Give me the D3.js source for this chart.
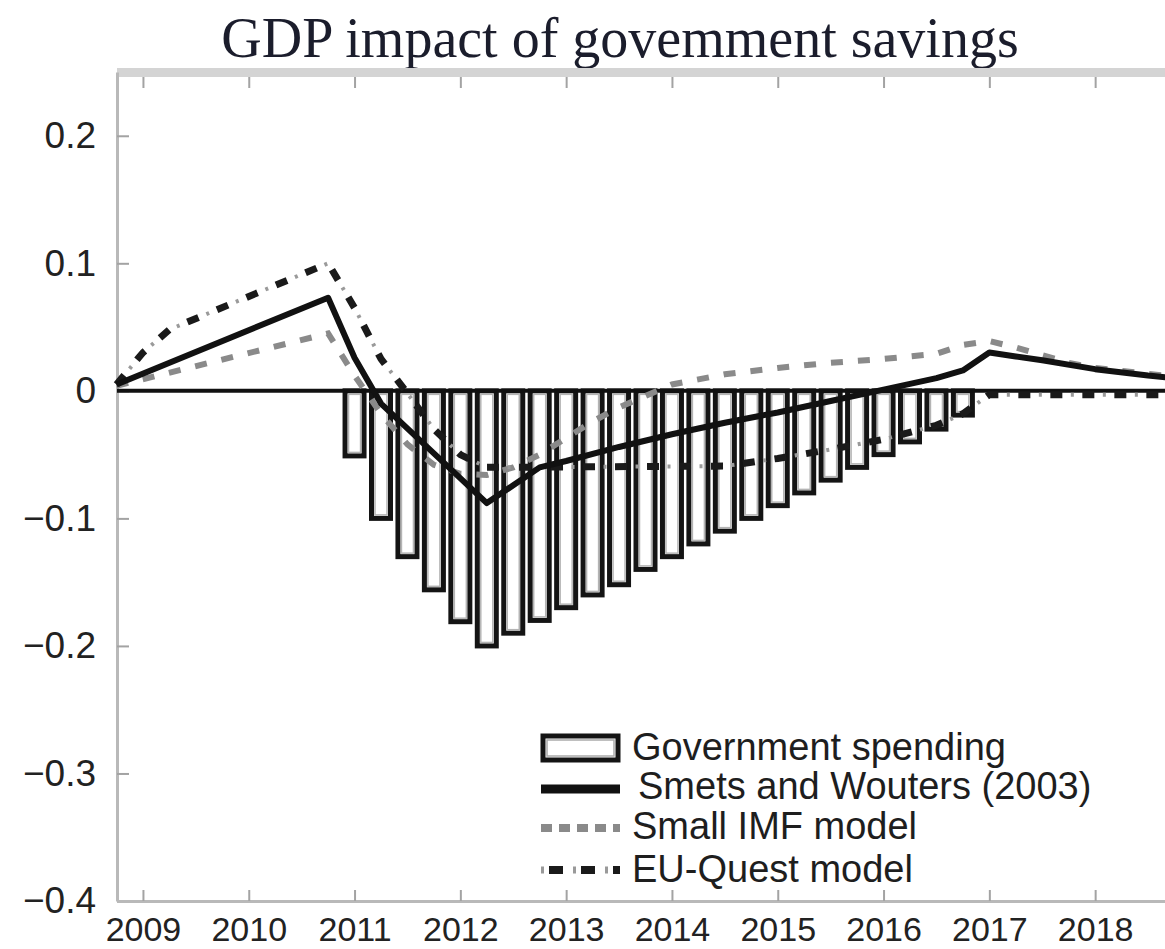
<!DOCTYPE html>
<html>
<head>
<meta charset="utf-8">
<title>GDP impact of govemment savings</title>
<script src="https://d3js.org/d3.v7.min.js"></script>
<style>
  body { margin: 0; background: #fff; }
  text { font-family: "Liberation Sans", Arial, Helvetica, sans-serif; fill: #1e1e1e; }
</style>
</head>
<body>
<script>
// ---- data ----
// government spending bars, one per quarter
var barDates  = [2011.0, 2011.25, 2011.5, 2011.75, 2012.0, 2012.25, 2012.5, 2012.75,
                 2013.0, 2013.25, 2013.5, 2013.75, 2014.0, 2014.25, 2014.5, 2014.75,
                 2015.0, 2015.25, 2015.5, 2015.75, 2016.0, 2016.25, 2016.5, 2016.75];
var barValues = [-0.051, -0.100, -0.130, -0.156, -0.181, -0.200, -0.190, -0.180,
                 -0.170, -0.160, -0.152, -0.140, -0.130, -0.120, -0.110, -0.100,
                 -0.090, -0.080, -0.070, -0.060, -0.050, -0.040, -0.030, -0.019];

// Smets and Wouters (2003)
var swDates  = [2008.75, 2010.75, 2011.0, 2011.25, 2012.25, 2012.5, 2012.75, 2013.0, 2013.5,
                2014.0, 2014.5, 2015.0, 2015.5, 2016.0, 2016.5, 2016.75, 2017.0, 2017.25,
                2017.5, 2018.0, 2018.5, 2018.75];
var swValues = [0.005, 0.073, 0.026, -0.010, -0.088, -0.074, -0.060, -0.055, -0.044,
                -0.034, -0.025, -0.017, -0.008, 0.001, 0.010, 0.016, 0.030, 0.027,
                0.024, 0.017, 0.012, 0.010];

// Small IMF model
var imfDates  = [2008.75, 2010.75, 2011.0, 2011.25, 2011.5, 2011.75, 2012.0, 2012.25, 2012.5,
                 2012.75, 2013.0, 2013.25, 2013.5, 2013.75, 2014.0, 2014.5, 2015.0, 2015.5,
                 2016.0, 2016.5, 2016.75, 2017.0, 2017.25, 2017.5, 2017.75, 2018.0, 2018.75];
var imfValues = [0.004, 0.045, 0.012, -0.018, -0.042, -0.058, -0.065, -0.066, -0.060,
                 -0.050, -0.037, -0.024, -0.013, -0.004, 0.005, 0.013, 0.018, 0.022,
                 0.025, 0.029, 0.036, 0.039, 0.034, 0.028, 0.022, 0.018, 0.011];

// EU-Quest model
var euDates  = [2008.75, 2009.0, 2009.25, 2010.75, 2011.0, 2011.25, 2011.5, 2011.75, 2012.0,
                2012.25, 2014.5, 2015.0, 2015.5, 2016.0, 2016.5, 2016.75, 2017.0, 2018.75];
var euValues = [0.005, 0.030, 0.048, 0.100, 0.065, 0.025, -0.002, -0.030, -0.050,
                -0.060, -0.059, -0.053, -0.046, -0.038, -0.027, -0.018, -0.003, -0.003];

var yearTicks = [2009, 2010, 2011, 2012, 2013, 2014, 2015, 2016, 2017, 2018];
var valueTicks = [0.2, 0.1, 0, -0.1, -0.2, -0.3, -0.4];
var legendLabels = ["Government spending", "Smets and Wouters (2003)", "Small IMF model", "EU-Quest model"];
var titleText = "GDP impact of govemment savings";

// ---- layout ----
var width = 1165, height = 949;

var svg = d3.select("body").append("svg")
    .attr("width", width)
    .attr("height", height)
    .style("display", "block");

svg.append("rect").attr("width", width).attr("height", height).attr("fill", "#fff");

var x = d3.scaleLinear().domain([2008.75, 2018.75]).range([116.5, 1174.5]);
var y = d3.scaleLinear().domain([-0.4, 0.25]).range([901, 72]);

// title
svg.append("text")
    .attr("x", 620)
    .attr("y", 57)
    .attr("text-anchor", "middle")
    .style("font-family", "'Liberation Serif', 'Times New Roman', serif")
    .style("font-size", "56px")
    .style("fill", "#1b1d2c")
    .text(titleText);

// top gray band of the frame
svg.append("rect")
    .attr("x", 117).attr("y", 68)
    .attr("width", width - 117).attr("height", 9)
    .attr("fill", "#d4d4d4");

function styleAxis(g) {
    g.selectAll(".tick line").attr("stroke", "#a3a3a3").attr("stroke-width", 2);
    g.select(".domain").attr("stroke", "#b9b9b9").attr("stroke-width", 3);
}

// top ticks (no labels)
var topAxis = svg.append("g")
    .attr("transform", "translate(0,77)")
    .call(d3.axisTop(x).tickValues(yearTicks).tickSize(-11).tickSizeOuter(0).tickFormat(""));
topAxis.select(".domain").remove();
styleAxis(topAxis);

// left axis
var leftAxis = svg.append("g")
    .attr("transform", "translate(117,0)")
    .call(d3.axisLeft(y)
        .tickValues(valueTicks)
        .tickSize(-12)
        .tickSizeOuter(0)
        .tickPadding(21)
        .tickFormat(function (d) { return (d < 0 ? "\u2212" : "") + Math.abs(d); }));
styleAxis(leftAxis);
leftAxis.selectAll("text")
    .style("font-size", "37px")
    .style("fill", "#222");

// bottom axis
var bottomAxis = svg.append("g")
    .attr("transform", "translate(0,901)")
    .call(d3.axisBottom(x)
        .tickValues(yearTicks)
        .tickSize(-11)
        .tickSizeOuter(0)
        .tickPadding(16)
        .tickFormat(d3.format("d")));
styleAxis(bottomAxis);
bottomAxis.selectAll("text")
    .style("font-size", "34px")
    .style("fill", "#222");

// ---- bars ----
var bars = barDates.map(function (d, i) { return { date: d, value: barValues[i] }; });

var barG = svg.append("g");
barG.selectAll("rect.outer")
    .data(bars)
    .enter().append("rect")
    .attr("class", "outer")
    .attr("x", function (d) { return x(d.date) - 9.5; })
    .attr("y", y(0))
    .attr("width", 19)
    .attr("height", function (d) { return y(d.value) - y(0); })
    .attr("fill", "#fff")
    .attr("stroke", "#141414")
    .attr("stroke-width", 5);

barG.selectAll("rect.inner")
    .data(bars)
    .enter().append("rect")
    .attr("class", "inner")
    .attr("x", function (d) { return x(d.date) - 6; })
    .attr("y", y(0) + 3.5)
    .attr("width", 12)
    .attr("height", function (d) { return Math.max(0, y(d.value) - y(0) - 7); })
    .attr("fill", "none")
    .attr("stroke", "#b4b4b4")
    .attr("stroke-width", 1.5);

// zero line
svg.append("line")
    .attr("x1", 117).attr("x2", width)
    .attr("y1", y(0)).attr("y2", y(0))
    .attr("stroke", "#111")
    .attr("stroke-width", 4);

// ---- lines ----
function pairs(dates, values) {
    return dates.map(function (d, i) { return [d, values[i]]; });
}
var line = d3.line()
    .x(function (d) { return x(d[0]); })
    .y(function (d) { return y(d[1]); });

// Small IMF model
svg.append("path")
    .datum(pairs(imfDates, imfValues))
    .attr("d", line)
    .attr("fill", "none")
    .attr("stroke", "#8a8a8a")
    .attr("stroke-width", 6)
    .attr("stroke-dasharray", "12,15");

// EU-Quest model (dark blocks with light dots between)
var euData = pairs(euDates, euValues);
svg.append("path")
    .datum(euData)
    .attr("d", line)
    .attr("fill", "none")
    .attr("stroke", "#1a1a1a")
    .attr("stroke-width", 7)
    .attr("stroke-dasharray", "12,20");
svg.append("path")
    .datum(euData)
    .attr("d", line)
    .attr("fill", "none")
    .attr("stroke", "#9a9a9a")
    .attr("stroke-width", 4)
    .attr("stroke-dasharray", "3,29")
    .attr("stroke-dashoffset", -20.5);

// Smets and Wouters
svg.append("path")
    .datum(pairs(swDates, swValues))
    .attr("d", line)
    .attr("fill", "none")
    .attr("stroke", "#111")
    .attr("stroke-width", 6)
    .attr("stroke-linejoin", "round");

// ---- legend ----
var legBaselines = [760, 799, 839, 882];
var legX0 = 541, legX1 = 620;
var leg = svg.append("g");

// bar swatch
leg.append("rect")
    .attr("x", legX0 + 2).attr("y", legBaselines[0] - 24)
    .attr("width", legX1 - legX0 - 4).attr("height", 24)
    .attr("fill", "#fff").attr("stroke", "#141414").attr("stroke-width", 5);
leg.append("rect")
    .attr("x", legX0 + 6).attr("y", legBaselines[0] - 20)
    .attr("width", legX1 - legX0 - 12).attr("height", 16)
    .attr("fill", "none").attr("stroke", "#aaa").attr("stroke-width", 1.5);

// solid swatch
leg.append("line")
    .attr("x1", legX0).attr("x2", legX1)
    .attr("y1", legBaselines[1] - 10).attr("y2", legBaselines[1] - 10)
    .attr("stroke", "#111").attr("stroke-width", 9);

// dashed swatch
leg.append("line")
    .attr("x1", legX0).attr("x2", legX1)
    .attr("y1", legBaselines[2] - 11).attr("y2", legBaselines[2] - 11)
    .attr("stroke", "#8a8a8a").attr("stroke-width", 8)
    .attr("stroke-dasharray", "11,7");

// dash-dot swatch
leg.append("line")
    .attr("x1", legX0).attr("x2", legX1)
    .attr("y1", legBaselines[3] - 12).attr("y2", legBaselines[3] - 12)
    .attr("stroke", "#9a9a9a").attr("stroke-width", 7)
    .attr("stroke-dasharray", "3,13");
leg.append("line")
    .attr("x1", legX0 + 8).attr("x2", legX1)
    .attr("y1", legBaselines[3] - 12).attr("y2", legBaselines[3] - 12)
    .attr("stroke", "#1a1a1a").attr("stroke-width", 8)
    .attr("stroke-dasharray", "14,18");

leg.selectAll("text.label")
    .data(legendLabels)
    .enter().append("text")
    .attr("class", "label")
    .attr("x", function (d, i) { return i === 1 ? 638 : 632; })
    .attr("y", function (d, i) { return legBaselines[i]; })
    .style("font-size", "38px")
    .style("fill", "#1e1e1e")
    .text(function (d) { return d; });
</script>
</body>
</html>
